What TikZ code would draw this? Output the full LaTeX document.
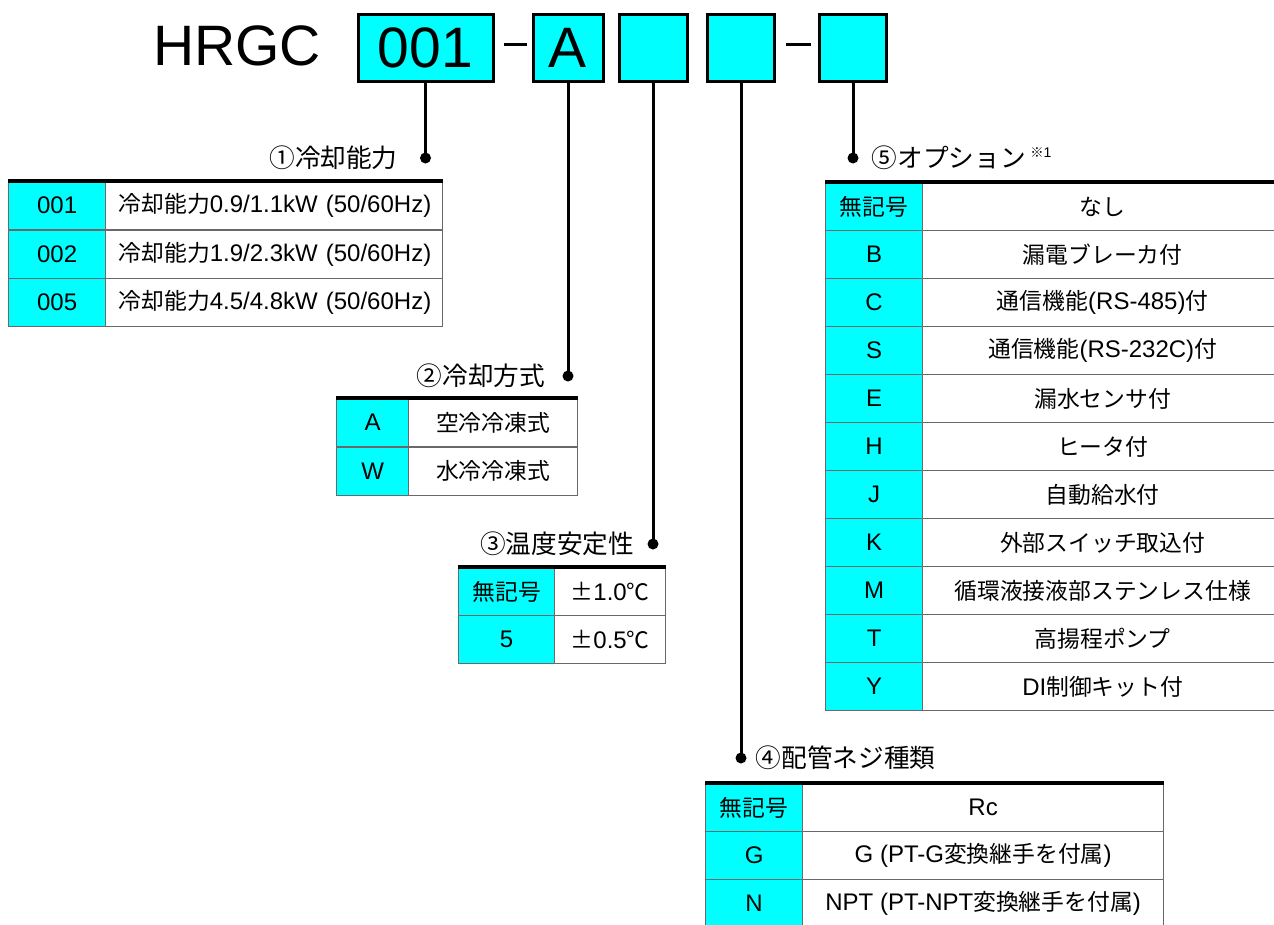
\documentclass[tikz,border=0pt]{standalone}
\usepackage{fontspec}
\setmainfont{Liberation Sans}
\newfontfamily\jp[Scale=0.95]{Noto Sans CJK JP}
\usetikzlibrary{positioning}
\definecolor{keycyan}{RGB}{0,255,255}
\definecolor{rulegray}{RGB}{105,105,105}
\tikzstyle{codebox} = [rectangle, draw=black, line width=3pt, fill=keycyan, minimum height=67pt, inner sep=0pt, font=\fontsize{57}{57}\selectfont]
\tikzstyle{leaddot} = [circle, fill=black, inner sep=0pt, minimum size=11pt]
\tikzstyle{lead} = [line width=3pt]
\tikzstyle{partlabel} = [inner sep=0pt, font=\fontsize{27}{27}\selectfont]
\tikzstyle{keycell} = [rectangle, draw=rulegray, line width=1.3pt, fill=keycyan, anchor=north west, inner sep=0pt, minimum height=48pt, font=\fontsize{24}{24}\selectfont]
\tikzstyle{desccell} = [keycell, fill=white]
\tikzstyle{topline} = [line width=3.5pt]
\begin{document}
\begin{tikzpicture}[x=1pt, y=-1pt]
\useasboundingbox[fill=white] (0,0) rectangle (1274,924);

% model number
\node (model) [font=\fontsize{57}{57}\selectfont, anchor=base] at (237,65) {HRGC};
\node (b1) [codebox, minimum width=135pt] at (425.5,47.5) {001};
\node (b2) [codebox, minimum width=70pt] at (568,47.5) {A};
\node (b3) [codebox, minimum width=68pt] at (653,47.5) {};
\node (b4) [codebox, minimum width=67pt] at (741,47.5) {};
\node (b5) [codebox, minimum width=67pt] at (853,47.5) {};
\draw[lead] ([xshift=9pt,yshift=3pt]b1.east) -- ([xshift=-5pt,yshift=3pt]b2.west);
\draw[lead] ([xshift=10pt,yshift=3pt]b4.east) -- ([xshift=-7pt,yshift=3pt]b5.west);

% leads
\node (d1) [leaddot] at (425.5,158) {};
\node (d2) [leaddot] at (568,376) {};
\node (d3) [leaddot] at (653,544) {};
\node (d4) [leaddot] at (741,758) {};
\node (d5) [leaddot] at (853,158) {};
\draw[lead] (b1.south) -- (d1.center);
\draw[lead] (b2.south) -- (d2.center);
\draw[lead] (b3.south) -- (d3.center);
\draw[lead] (b4.south) -- (d4.center);
\draw[lead] (b5.south) -- (d5.center);

\node (l1) [partlabel, left=22pt of d1] {\jp ①冷却能力};
\node (l2) [partlabel, left=17pt of d2] {\jp ②冷却方式};
\node (l3) [partlabel, left=13pt of d3] {\jp ③温度安定性};
\node (l4) [partlabel, right=9pt of d4] {\jp ④配管ネジ種類};
\node (l5) [partlabel, right=13pt of d5] {{\jp ⑤オプション}\,\raisebox{10pt}{\fontsize{14}{14}\selectfont{\jp ※}1}};

% (1) cooling capacity
\foreach \k/\d [count=\i from 0] in {001/{0.9/1.1}, 002/{1.9/2.3}, 005/{4.5/4.8}} {
  \node (ka\i) [keycell, minimum width=97pt] at (8,{181+48.5*\i}) {\k};
  \node (da\i) [desccell, minimum width=337pt, text width=311pt, align=left] at (105,{181+48.5*\i}) {\mbox{{\jp 冷却能力}\d kW (50/60Hz)}};
}
\draw[topline] (ka0.north west) -- (da0.north east);

% (2) cooling method
\foreach \k/\d [count=\i from 0] in {A/空冷冷凍式, W/水冷冷凍式} {
  \node (kb\i) [keycell, minimum width=72pt] at (336,{398+48.5*\i}) {\k};
  \node (db\i) [desccell, minimum width=169pt] at (408,{398+48.5*\i}) {\jp \d};
}
\draw[topline] (kb0.north west) -- (db0.north east);

% (3) temperature stability
\foreach \k/\d [count=\i from 0] in {{\jp 無記号}/{{\jp ±}1.0{\jp ℃}}, 5/{{\jp ±}0.5{\jp ℃}}} {
  \node (kc\i) [keycell, minimum width=96pt] at (458,{567+48*\i}) {\k};
  \node (dc\i) [desccell, minimum width=111pt] at (554,{567+48*\i}) {\d};
}
\draw[topline] (kc0.north west) -- (dc0.north east);

% (4) piping thread
\foreach \k/\d [count=\i from 0] in {{\jp 無記号}/Rc, G/{G (PT-G{\jp 変換継手を付属})}, N/{NPT (PT-NPT{\jp 変換継手を付属})}} {
  \node (kd\i) [keycell, minimum width=97pt] at (705,{783+48*\i}) {\k};
  \node (dd\i) [desccell, minimum width=361pt] at (802,{783+48*\i}) {\d};
}
\draw[topline] (kd0.north west) -- (dd0.north east);

% (5) options
\foreach \k/\d [count=\i from 0] in {{\jp 無記号}/{\jp なし}, B/{\jp 漏電ブレーカ付}, C/{{\jp 通信機能}(RS-485){\jp 付}}, S/{{\jp 通信機能}(RS-232C){\jp 付}}, E/{\jp 漏水センサ付}, H/{\jp ヒータ付}, J/{\jp 自動給水付}, K/{\jp 外部スイッチ取込付}, M/{\jp 循環液接液部ステンレス仕様}, T/{\jp 高揚程ポンプ}, Y/{DI{\jp 制御キット付}}} {
  \node (ke\i) [keycell, minimum width=97pt] at (825,{182+48*\i}) {\k};
  \node (de\i) [desccell, minimum width=360pt] at (922,{182+48*\i}) {\d};
}
\draw[topline] (ke0.north west) -- (de0.north east);
\end{tikzpicture}
\end{document}
